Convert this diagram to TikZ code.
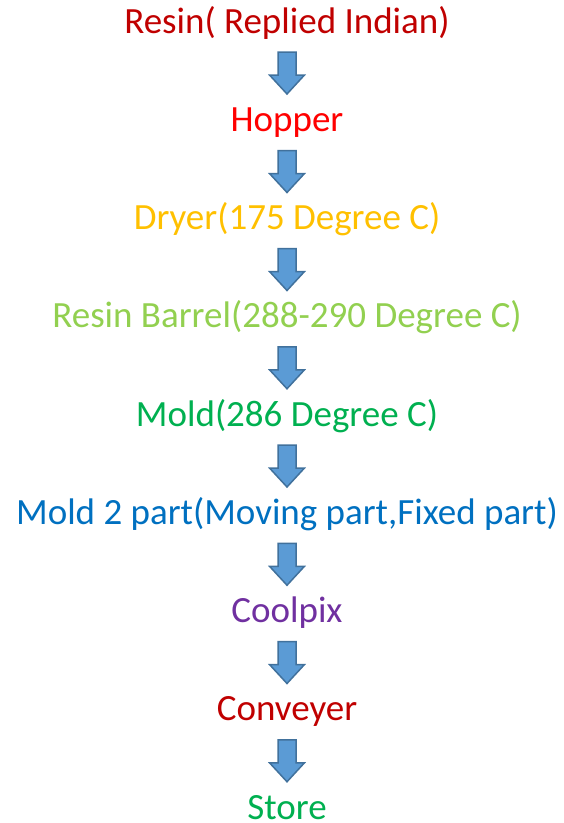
\documentclass[tikz,border=0pt]{standalone}
\usepackage{fontspec}
\setmainfont{Carlito}
\usetikzlibrary{calc}
\definecolor{darkred}{HTML}{C00000}
\definecolor{brightred}{HTML}{FF0000}
\definecolor{gold}{HTML}{FFC000}
\definecolor{lightgreen}{HTML}{92D050}
\definecolor{midgreen}{HTML}{00B050}
\definecolor{midblue}{HTML}{0070C0}
\definecolor{purple}{HTML}{7030A0}
\definecolor{arrowfill}{HTML}{5B9BD5}
\definecolor{arrowedge}{HTML}{41719C}
\tikzset{
  stage/.style={anchor=base, inner sep=0pt, font=\fontsize{37}{42}\selectfont},
  blockarrow/.style={fill=arrowfill, draw=arrowedge, line width=1.5pt, line join=miter},
}
% block arrow hanging below the stage #1 and pointing at stage #2
\newcommand{\flowarrow}[2]{%
  \draw[blockarrow] ($(#1.base)+(-9,-19)$) -- ($(#1.base)+(9,-19)$)
    -- ($(#1.base)+(9,-42)$) -- ($(#1.base)+(17.5,-42)$)
    -- ($(#1.base)+(0,-61)$) -- ($(#1.base)+(-17.5,-42)$)
    -- ($(#1.base)+(-9,-42)$) -- cycle;
  \coordinate (#2-in) at ($(#1.base)+(0,-61)$);
}
\begin{document}
\begin{tikzpicture}[x=1pt,y=1pt]
  \useasboundingbox (0,0) rectangle (563,-823);
  \def\cx{287}
  \node[stage, text=darkred]    (resin)   at (\cx,-33)     {Resin( Replied Indian)};
  \node[stage, text=brightred]  (hopper)  at (\cx,-131.5)  {Hopper};
  \node[stage, text=gold]       (dryer)   at (\cx,-229.5)  {Dryer(175 Degree C)};
  \node[stage, text=lightgreen] (barrel)  at (\cx,-327.75) {Resin Barrel(288-290 Degree C)};
  \node[stage, text=midgreen]   (mold)    at (\cx,-426)    {Mold(286 Degree C)};
  \node[stage, text=midblue]    (mold2)   at (\cx,-524.25) {Mold 2 part(Moving part,Fixed part)};
  \node[stage, text=purple]     (coolpix) at (\cx,-622.5)  {Coolpix};
  \node[stage, text=darkred]    (conv)    at (\cx,-720.75) {Conveyer};
  \node[stage, text=midgreen]   (store)   at (\cx,-819)    {Store};
  \flowarrow{resin}{hopper}
  \flowarrow{hopper}{dryer}
  \flowarrow{dryer}{barrel}
  \flowarrow{barrel}{mold}
  \flowarrow{mold}{mold2}
  \flowarrow{mold2}{coolpix}
  \flowarrow{coolpix}{conv}
  \flowarrow{conv}{store}
\end{tikzpicture}
\end{document}
